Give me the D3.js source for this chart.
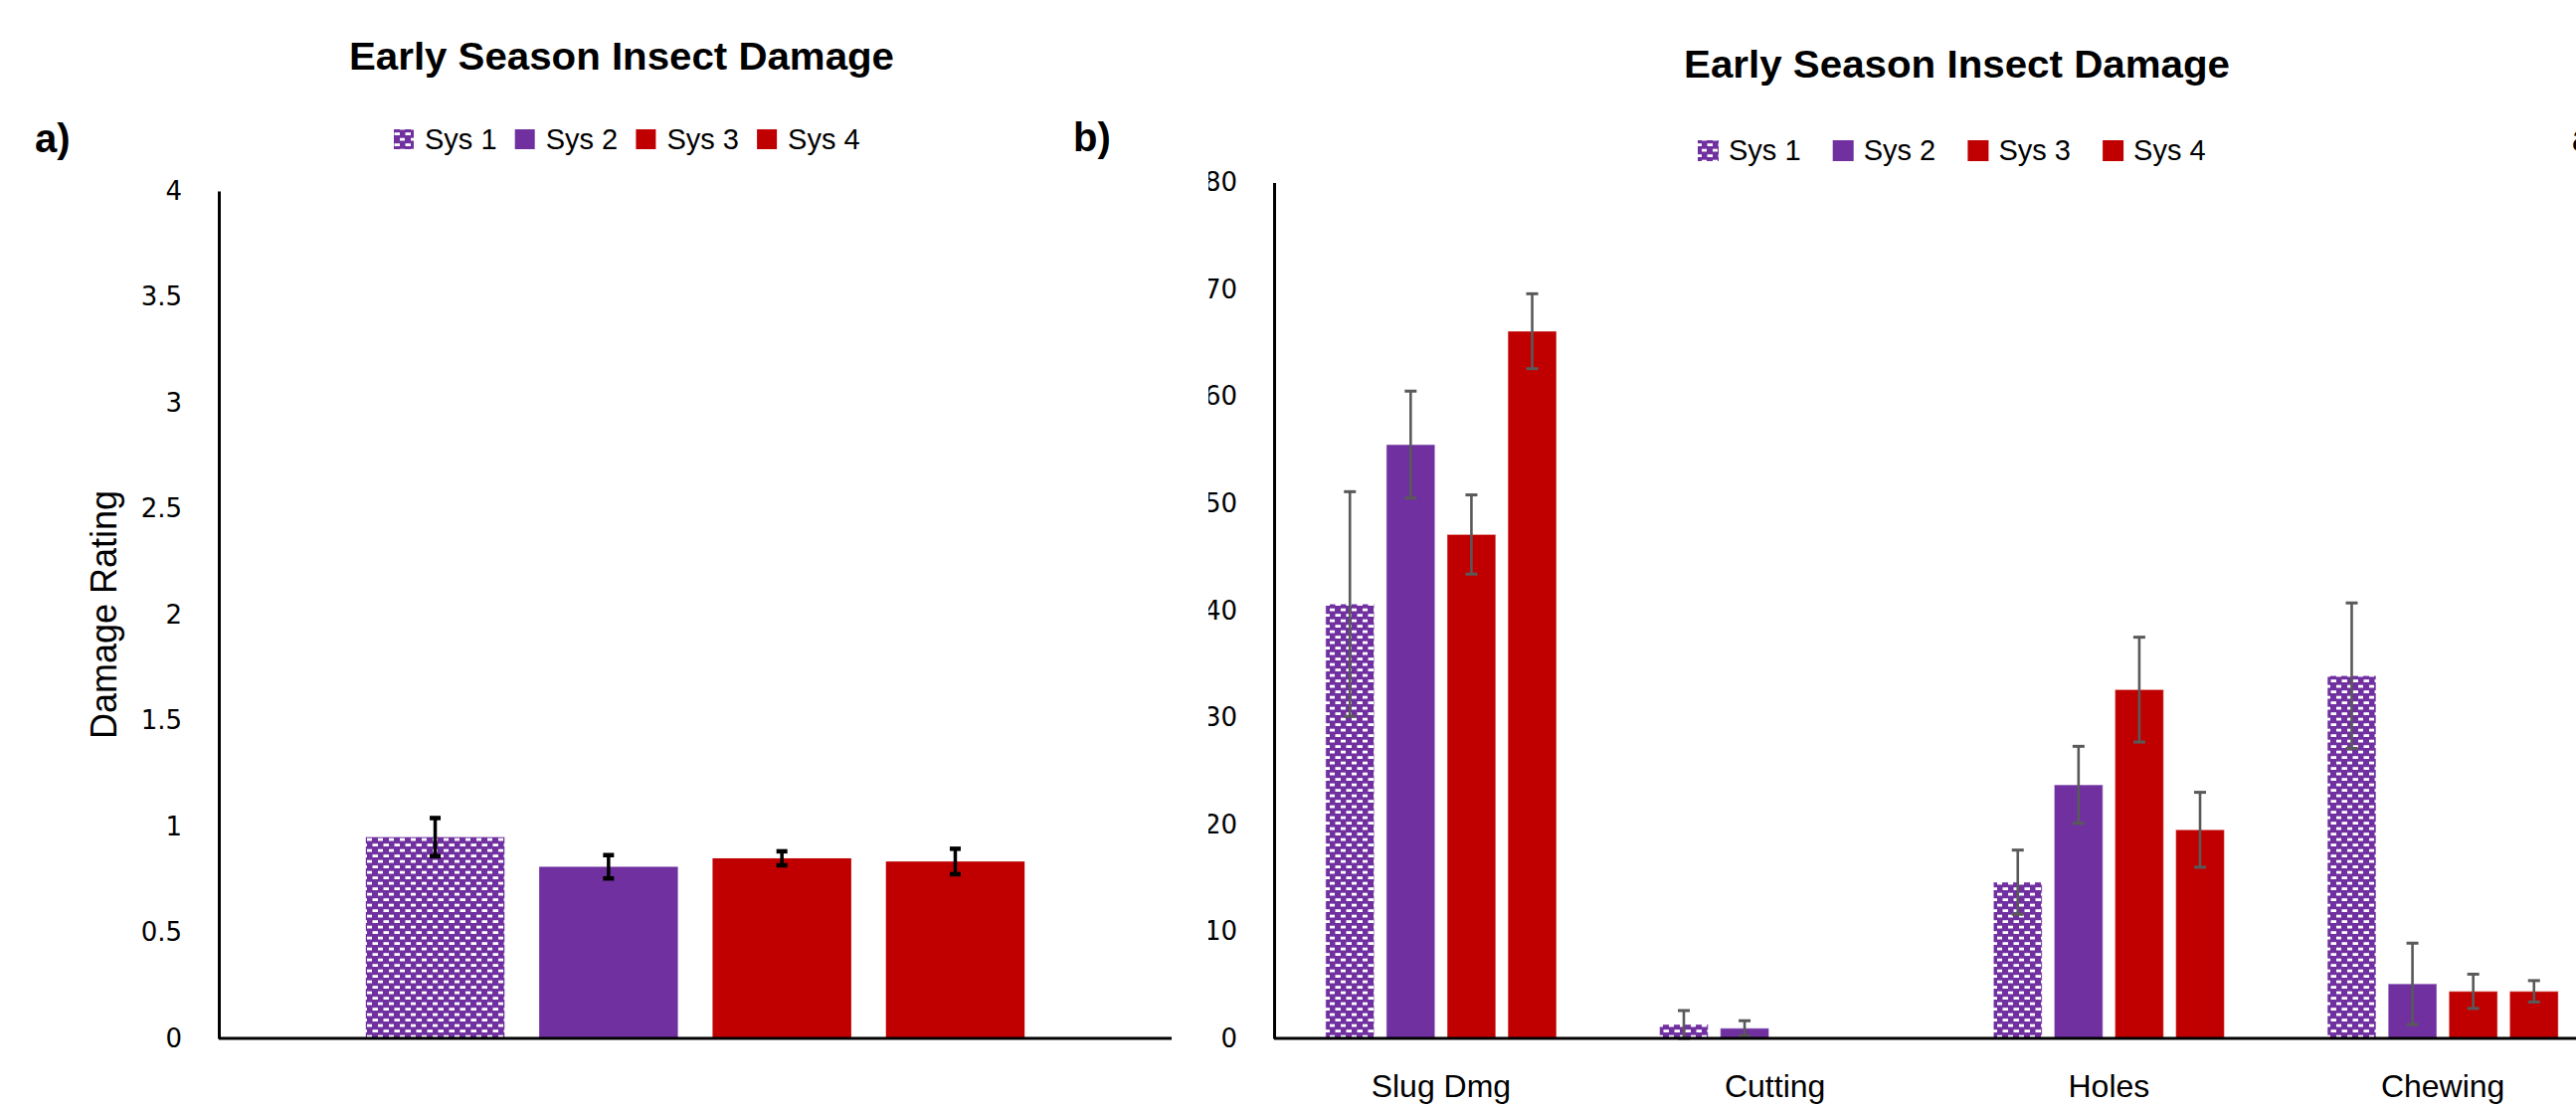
<!DOCTYPE html>
<html><head><meta charset="utf-8">
<script src="https://cdn.jsdelivr.net/npm/d3@7"></script>
<style>body{margin:0;background:#fff;overflow:hidden;} svg{display:block;}</style>
</head><body>
<svg id="chart" width="2590" height="1113"></svg>
<script>
// ---------- data ----------
const systems = ["Sys 1", "Sys 2", "Sys 3", "Sys 4"];
const seriesColors = ["#7030A0", "#7030A0", "#C00000", "#C00000"];

const titleText = "Early Season Insect Damage";
const yLabelA = "Damage Rating";

const categoriesA = ["Overall"];
const valuesA = [0.95, 0.81, 0.85, 0.835];
const errorsA = [0.09, 0.055, 0.033, 0.06];
const ticksA = [0, 0.5, 1, 1.5, 2, 2.5, 3, 3.5, 4];

const categoriesB = ["Slug Dmg", "Cutting", "Holes", "Chewing"];
const sys1B = [40.6, 1.3, 14.6, 33.9];
const sys2B = [55.5, 0.95, 23.7, 5.1];
const sys3B = [47.1, 0, 32.6, 4.4];
const sys4B = [66.1, 0, 19.5, 4.4];
const err1B = [10.5, 1.3, 3.0, 6.8];
const err2B = [5.0, 0.7, 3.6, 3.8];
const err3B = [3.7, 0, 4.9, 1.6];
const err4B = [3.5, 0, 3.5, 1.0];
const ticksB = [0, 10, 20, 30, 40, 50, 60, 70, 80];

// ---------- drawing ----------
const svg = d3.select("#chart");
svg.append("rect").attr("width", 2590).attr("height", 1113).attr("fill", "#fff");
const defs = svg.append("defs");
const pat = defs.append("pattern").attr("id", "dash")
  .attr("patternUnits", "userSpaceOnUse").attr("width", 11).attr("height", 11);
pat.append("rect").attr("width", 11).attr("height", 11).attr("fill", "#7030A0");
pat.append("rect").attr("x", 0.5).attr("y", 1.2).attr("width", 5.5).attr("height", 2.8).attr("fill", "#fff");
pat.append("rect").attr("x", 6).attr("y", 6.7).attr("width", 5).attr("height", 2.8).attr("fill", "#fff");
defs.append("clipPath").attr("id", "clipB").append("rect")
  .attr("x", 1215).attr("y", 0).attr("width", 1400).attr("height", 1113);

const fillFor = i => i === 0 ? "url(#dash)" : seriesColors[i];
const FONT = "'Liberation Sans', Arial, sans-serif";

function panel(cfg) {
  const g = svg.append("g");
  const x0 = d3.scaleBand().domain(cfg.cats).range(cfg.xRange).padding(0);
  const x1 = d3.scaleBand().domain(systems).range([0, x0.bandwidth()])
    .paddingInner(0.2).paddingOuter(0.848);
  const y = d3.scaleLinear().domain(cfg.domain).range(cfg.yRange);

  // bars
  cfg.cats.forEach((c, ci) => {
    systems.forEach((s, si) => {
      const v = cfg.values[si][ci];
      if (v <= 0) return;
      const r = g.append("rect")
        .attr("x", x0(c) + x1(s)).attr("y", y(v))
        .attr("width", x1.bandwidth()).attr("height", y(0) - y(v))
        .attr("fill", fillFor(si));
      if (cfg.outline) r.attr("stroke", "#fff").attr("stroke-opacity", 0.4).attr("stroke-width", 1.2);
    });
  });
  // error bars
  cfg.cats.forEach((c, ci) => {
    systems.forEach((s, si) => {
      const v = cfg.values[si][ci], e = cfg.errors[si][ci];
      if (!(e > 0)) return;
      const cx = x0(c) + x1(s) + x1.bandwidth() / 2;
      const yt = y(v + e), yb = y(Math.max(0, v - e));
      g.append("line").attr("x1", cx).attr("x2", cx).attr("y1", yt).attr("y2", yb)
        .attr("stroke", cfg.errColor).attr("stroke-width", cfg.errW);
      [yt, yb].forEach(yy => g.append("line")
        .attr("x1", cx - cfg.capW / 2).attr("x2", cx + cfg.capW / 2)
        .attr("y1", yy).attr("y2", yy)
        .attr("stroke", cfg.errColor).attr("stroke-width", cfg.capT));
    });
  });
  // y axis (optionally clipped on the left, as in the reference)
  const holder = g.append("g");
  if (cfg.clip) holder.attr("clip-path", "url(#clipB)");
  const yAxis = d3.axisLeft(y).tickValues(cfg.ticks).tickSize(0).tickSizeOuter(0)
    .tickPadding(cfg.tickPad).tickFormat(d3.format(""));
  const yg = holder.append("g").attr("transform", `translate(${cfg.xRange[0]},0)`).call(yAxis);
  yg.select(".domain").attr("stroke", "#000").attr("stroke-width", 3);
  yg.selectAll(".tick text").attr("font-family", "'DejaVu Sans', sans-serif")
    .attr("font-size", 26).attr("fill", "#000");
  // x axis
  const xAxis = d3.axisBottom(x0).tickSize(0).tickSizeOuter(0).tickPadding(36);
  const xg = g.append("g").attr("transform", `translate(0,${y(0)})`).call(xAxis);
  xg.select(".domain").remove();
  xg.append("line").attr("x1", cfg.xRange[0]).attr("x2", cfg.xRange[1])
    .attr("stroke", "#000").attr("stroke-width", 3);
  xg.selectAll(".tick text").attr("font-family", FONT).attr("font-size", 32)
    .attr("fill", "#000").style("display", cfg.showCats ? null : "none");
  return g;
}

// panel b (its left tick labels are partly hidden, as in the reference)
panel({
  cats: categoriesB,
  values: [sys1B, sys2B, sys3B, sys4B],
  errors: [err1B, err2B, err3B, err4B],
  ticks: ticksB, domain: [0, 80],
  xRange: [1281, 2624], yRange: [1044, 183.5],
  tickPad: 37, errColor: "#595959", errW: 2.6, capW: 12, capT: 3,
  outline: true, clip: true, showCats: true
});
// panel a
panel({
  cats: categoriesA,
  values: valuesA.map(v => [v]),
  errors: errorsA.map(e => [e]),
  ticks: ticksA, domain: [0, 4],
  xRange: [220, 1178], yRange: [1044, 192],
  tickPad: 37, errColor: "#000", errW: 3.5, capW: 11, capT: 4.5,
  outline: false, clip: false, showCats: false
});

// titles & labels
function txt(x, y, s, size, opts = {}) {
  const t = svg.append("text").attr("x", x).attr("y", y).text(s)
    .attr("font-family", FONT).attr("font-size", size).attr("fill", "#000")
    .attr("font-weight", opts.bold ? "bold" : "normal")
    .attr("text-anchor", opts.anchor || "start");
  if (opts.len) t.attr("textLength", opts.len).attr("lengthAdjust", "spacingAndGlyphs");
  return t;
}
txt(625, 70, titleText, 38, { bold: true, anchor: "middle", len: 548 });
txt(1967.5, 78, titleText, 38, { bold: true, anchor: "middle", len: 549 });
txt(35, 153, "a)", 40, { bold: true });
txt(1079, 152, "b)", 40, { bold: true });
txt(2586, 152, "a)", 40, { bold: true });

svg.append("text").attr("transform", "translate(117,618) rotate(-90)")
  .attr("text-anchor", "middle").attr("font-family", FONT).attr("font-size", 36)
  .attr("fill", "#000").text(yLabelA);

// legends
function legend(x, step, swY, sw, textY) {
  systems.forEach((s, i) => {
    const lx = x + i * step;
    svg.append("rect").attr("x", lx).attr("y", swY).attr("width", sw).attr("height", sw)
      .attr("fill", fillFor(i));
    txt(lx + 31, textY, s, 29);
  });
}
legend(396, 121.7, 130, 20, 150);
legend(1707, 135.7, 141, 21, 161);
</script>
</body></html>
